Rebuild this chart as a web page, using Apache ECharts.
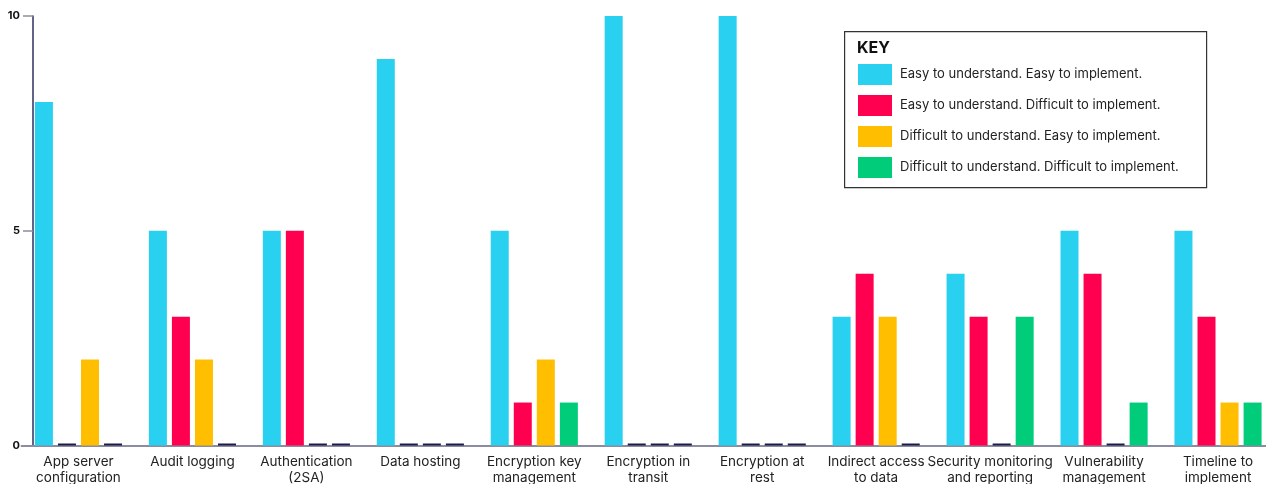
<!DOCTYPE html>
<html>
<head>
<meta charset="utf-8">
<script src="https://cdn.jsdelivr.net/npm/echarts@6/dist/echarts.min.js"></script>
<style>
  html, body { margin: 0; padding: 0; background: #fff; }
  #chart { width: 1266px; height: 484px; }
</style>
</head>
<body>
<div id="chart"></div>
<script>
var categories = [
    'App server\nconfiguration', 'Audit logging', 'Authentication\n(2SA)', 'Data hosting',
    'Encryption key\nmanagement', 'Encryption in\ntransit', 'Encryption at\nrest',
    'Indirect access\nto data', 'Security monitoring\nand reporting',
    'Vulnerability\nmanagement', 'Timeline to\nimplement'
];
var seriesNames = [
    'Easy to understand. Easy to implement.',
    'Easy to understand. Difficult to implement.',
    'Difficult to understand. Easy to implement.',
    'Difficult to understand. Difficult to implement.'
];
var easyEasy = [8, 5, 5, 9, 5, 10, 10, 3, 4, 5, 5];
var easyHard = [0, 3, 5, 0, 1, 0, 0, 4, 3, 4, 3];
var hardEasy = [2, 2, 0, 0, 2, 0, 0, 3, 0, 0, 1];
var hardHard = [0, 0, 0, 0, 1, 0, 0, 0, 3, 1, 1];
var yTicks = [0, 5, 10];

var colors = ['#29d0ef', '#ff0050', '#ffbf00', '#00cc7a'];
var zeroColor = '#1c1c4a';

var myChart = echarts.init(document.getElementById('chart'));

var makeData = function (values) {
    return values.map(function (v) {
        if (v === 0) {
            return { value: v, itemStyle: { color: zeroColor } };
        }
        return v;
    });
};

var allValues = [easyEasy, easyHard, hardEasy, hardHard];
var series = [];
for (var i = 0; i < allValues.length; i++) {
    series.push({
        name: seriesNames[i],
        type: 'bar',
        data: makeData(allValues[i]),
        barWidth: 18,
        barGap: '28%',
        barMinHeight: 2,
        itemStyle: { color: colors[i] }
    });
}

option = {
    backgroundColor: '#ffffff',
    animation: false,
    textStyle: { fontFamily: 'Inter' },
    grid: {
        left: 21.5,
        top: 16,
        bottom: 38.5,
        width: 1253.5,
        containLabel: false,
        outerBoundsMode: 'none'
    },
    xAxis: {
        type: 'category',
        data: categories,
        axisLine: { lineStyle: { color: '#8c8ca0', width: 2 } },
        axisTick: { show: false },
        axisLabel: {
            interval: 0,
            margin: 8,
            color: '#222',
            fontSize: 13.5,
            lineHeight: 16,
            fontFamily: 'Inter'
        }
    },
    yAxis: {
        type: 'value',
        min: yTicks[0],
        max: yTicks[yTicks.length - 1],
        interval: 5,
        offset: -11.5,
        axisLine: { show: true, lineStyle: { color: '#2e2f5e', width: 1.5 } },
        axisTick: { show: true, length: 10, lineStyle: { color: '#8c8ca0', width: 1.5 } },
        splitLine: { show: false },
        axisLabel: {
            margin: 13,
            color: '#111',
            fontSize: 11,
            fontWeight: 'bold',
            fontFamily: 'Inter'
        }
    },
    legend: {
        orient: 'vertical',
        left: 858,
        top: 64,
        padding: 0,
        itemWidth: 34,
        itemHeight: 21,
        itemGap: 10,
        icon: 'rect',
        data: seriesNames,
        textStyle: {
            color: '#222',
            fontSize: 13,
            fontFamily: 'Inter',
            padding: [0, 0, 0, 3]
        }
    },
    graphic: [
        {
            type: 'rect',
            left: 844,
            top: 31,
            z: -1,
            shape: { width: 362, height: 156 },
            style: { fill: '#fff', stroke: '#333', lineWidth: 1.2 }
        },
        {
            type: 'text',
            left: 857,
            top: 40,
            style: {
                text: 'KEY',
                fill: '#111',
                fontSize: 16,
                fontWeight: 'bold',
                fontFamily: 'Inter'
            }
        }
    ],
    series: series
};
myChart.setOption(option);
</script>
</body>
</html>
